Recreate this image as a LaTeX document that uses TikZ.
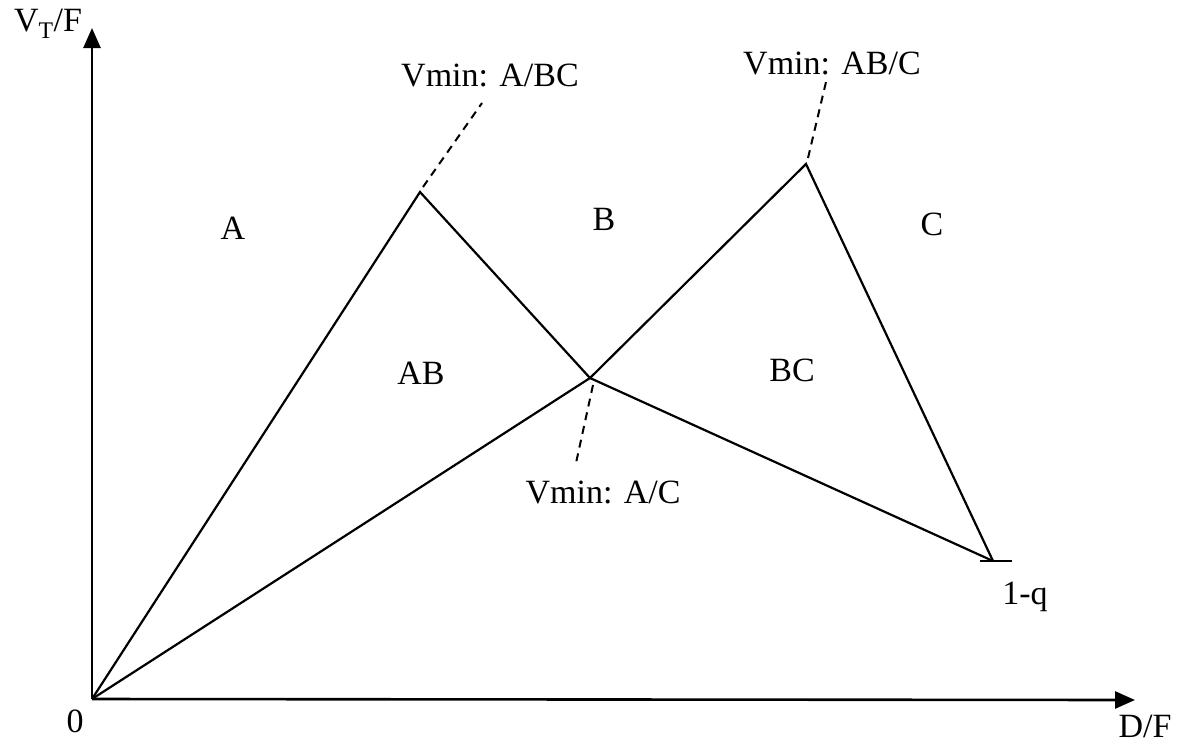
\documentclass[tikz,border=0pt]{standalone}
\usepackage{fontspec}
\setmainfont{Liberation Serif}
\usetikzlibrary{arrows.meta}
\begin{document}
\begin{tikzpicture}[x=1pt,y=-1pt,
  axis/.style={line width=2.6pt,-{Triangle[length=20pt,width=17pt]}},
  edge/.style={line width=2.2pt},
  leader/.style={line width=2pt,dash pattern=on 8pt off 6pt},
  lbl/.style={font=\fontsize{34}{40}\selectfont,inner sep=0pt}]
\useasboundingbox (0,0) rectangle (1177,745);
% axes
\coordinate (O) at (92,699);
\coordinate (ytop) at (92,28);
\coordinate (xend) at (1135,700);
\draw[axis] (O) -- (ytop);
\draw[axis] (O) -- (xend);
% corner points of the region map
\coordinate (P1) at (420,192);
\coordinate (X) at (590,378);
\coordinate (P2) at (806,164);
\coordinate (Q) at (993,561);
\draw[edge] (O) -- (P1) -- (X) -- (P2) -- (Q);
\draw[edge] (O) -- (X) -- (Q);
\coordinate (qL) at (980,561);
\coordinate (qR) at (1012,561);
\draw[edge] (qL) -- (qR);
% axis labels
\node[lbl] (yl) at (48,24) {V\textsubscript{T}/F};
\node[lbl] (xl) at (1145,726) {D/F};
\node[lbl] (zero) at (75,721) {0};
\node[lbl] (oneq) at (1025,597) {1-q};
% region names
\node[lbl] (A) at (233,228) {A};
\node[lbl] (B) at (604,219) {B};
\node[lbl] (C) at (932,224) {C};
\node[lbl] (AB) at (421,373) {AB};
\node[lbl] (BC) at (792,370) {BC};
% minimum-vapour annotations
\node[lbl] (m1) at (490,75) {Vmin: A/BC};
\node[lbl] (m2) at (832,63) {Vmin: AB/C};
\node[lbl] (m3) at (603,492) {Vmin: A/C};
\coordinate (m1e) at (482,103);
\coordinate (m1s) at (423,187);
\coordinate (m2e) at (826,82);
\coordinate (m2s) at (808,158);
\coordinate (m3e) at (576,463);
\coordinate (m3s) at (593,385);
\draw[leader] (m1s) -- (m1e);
\draw[leader] (m2s) -- (m2e);
\draw[leader] (m3s) -- (m3e);
\end{tikzpicture}
\end{document}
